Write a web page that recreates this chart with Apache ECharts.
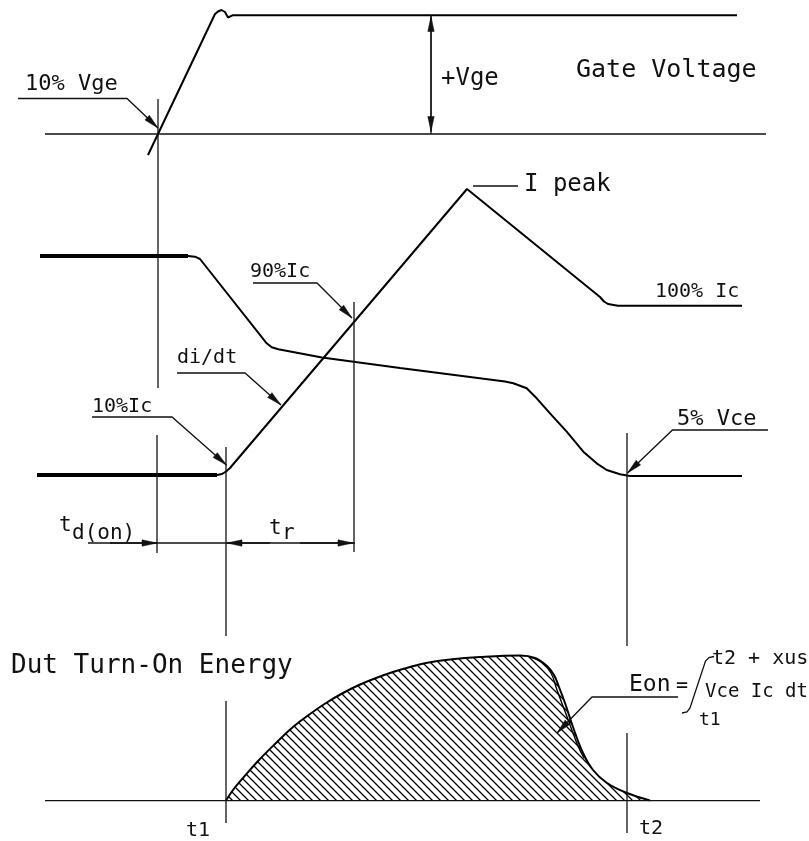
<!DOCTYPE html>
<html>
<head>
<meta charset="utf-8">
<title>IGBT turn-on waveforms</title>
<script src="https://cdn.jsdelivr.net/npm/echarts@6/dist/echarts.min.js"></script>
<style>
  html, body { margin: 0; padding: 0; background: #fff; }
  #chart { width: 809px; height: 841px; }
</style>
</head>
<body>
<div id="chart"></div>
<script>
// time runs left to right, level is read downward from the top of the sheet
const gateVoltage = [[148,155],[215,14],[218,11.5],[221.5,10],[225,12],[228,17.5],[230,17.5],[232.5,15.3],[737,15.3]]
const vce = [[40,256],[188,256],[195,256.7],[200,259],[266.7,343.3],[271.7,347.3],[278.3,349.3],[322,357.5],[400,368],[505,381.5],
  [513.3,383.3],[526.7,388.3],[536.7,398.3],[550,413.3],[566.7,431.7],[583.3,451.7],[596.7,463.3],[606.7,470],[620,474.3],[630,476],[742,476]]
const ic = [[37,475],[217,475],[222,474],[226,471.5],[230,468],[467,189],[600,297],[604,301.5],[608,304],[618,305.7],[742,305.7]]
const energy = [[226,800.5],[233,790],[243,778],[259,760],[276,743],[293,727],[310,714],[326,703],[343,693],[359,685],[376,678],
  [393,672],[410,667],[426,663],[450,659.5],[480,657],[520,655.5],[535,658],[547,666],[554,675],[559,687],[565,703],[573,727],
  [583,753],[593,770],[607,783],[627,793],[650,800.5]]
const energyInner = [[530,657],[541,662],[551,673],[557,690],[566,714],[578,746],[584,758]]
const energyFloor = 800.7

// construction lines: baselines and time markers
const guides = [
  [[45,134],[766,134]],
  [[45,energyFloor],[760,energyFloor]],
  [[158,99],[158,388]],
  [[157,435],[157,553]],
  [[226,447],[226,636]],
  [[226,701],[226,823]],
  [[354,302],[354,552]],
  [[627,433],[627,646]],
  [[627,733],[627,833]],
  [[431,15],[431,134]],
  [[88,543],[355,543]],
  [[473,186],[518,186]],
  [[714,656.5],[709,657.5],[705.5,661],[690,708],[687,712],[682,713]]
]
// leaders and dimension arrows, arrowhead at the last point
const arrows = [
  [[18,98.5],[127,98.5],[158,128]],
  [[253,283],[317,283],[352,318]],
  [[177,373],[245,373],[281,405]],
  [[92,417],[172,417],[226.5,465]],
  [[768,430],[672.5,430],[627.5,473]],
  [[678,697],[592,697],[557,733]],
  [[431,70],[431,16.5]],
  [[431,70],[431,131.5]],
  [[110,543],[157,543]],
  [[270,543],[227,543]],
  [[300,543],[353,543]]
]
const notes = [
  ['10% Vge', 25, 84, 22],
  ['+Vge', 441, 79, 24],
  ['Gate Voltage', 576, 70, 25],
  ['I peak', 524, 185, 24],
  ['90%Ic', 250, 272, 20],
  ['100% Ic', 655, 292, 20],
  ['di/dt', 177, 358, 20],
  ['10%Ic', 92, 407, 20],
  ['5% Vce', 677, 419, 22],
  ['t', 59, 526, 21],
  ['d(on)', 72, 534, 21],
  ['t', 269, 529, 21],
  ['r', 282, 534, 21],
  ['Dut Turn-On Energy', 11, 666, 26],
  ['Eon', 629, 685, 23],
  ['=', 676, 686, 20],
  ['t2 + xus', 712, 659, 20],
  ['Vce Ic dt', 705, 692, 19],
  ['t1', 699, 720, 18],
  ['t1', 186, 831, 20],
  ['t2', 639, 829, 20]
]

const ink = '#111'
const font = '"DejaVu Sans Mono", monospace'

function hatch (step) {
  const c = document.createElement('canvas')
  c.width = c.height = step
  const g = c.getContext('2d')
  g.strokeStyle = '#000'
  g.lineWidth = 1.3
  g.beginPath()
  g.moveTo(-1, -1); g.lineTo(step + 1, step + 1)
  g.moveTo(-1, step - 1); g.lineTo(1, step + 1)
  g.moveTo(step - 1, -1); g.lineTo(step + 1, 1)
  g.stroke()
  return c
}

function polylines (list, withHead) {
  return (params, api) => {
    const px = list[params.dataIndex].map(p => api.coord(p))
    const children = [{
      type: 'polyline',
      shape: { points: px },
      style: { stroke: ink, lineWidth: 1.3, fill: null }
    }]
    if (withHead) {
      const a = px[px.length - 2]
      const b = px[px.length - 1]
      const dx = b[0] - a[0]
      const dy = b[1] - a[1]
      const len = Math.hypot(dx, dy)
      const ux = dx / len
      const uy = dy / len
      const bx = b[0] - ux * 15
      const by = b[1] - uy * 15
      children.push({
        type: 'polygon',
        shape: { points: [b, [bx - uy * 3.2, by + ux * 3.2], [bx + uy * 3.2, by - ux * 3.2]] },
        style: { fill: ink, stroke: ink, lineWidth: 0.5 }
      })
    }
    return { type: 'group', children }
  }
}

function wave (data, width, extra) {
  return Object.assign({
    type: 'line',
    data,
    symbol: 'none',
    silent: true,
    lineStyle: { color: '#000', width },
    z: 3
  }, extra)
}

const chart = echarts.init(document.getElementById('chart'), null, { renderer: 'canvas' })
chart.setOption({
  animation: false,
  backgroundColor: '#fff',
  grid: [
    { left: 0, right: 0, top: 0, bottom: 0 },
    { left: 0, right: 0, top: 0, bottom: 841 - energyFloor }
  ],
  xAxis: [
    { type: 'value', gridIndex: 0, min: 0, max: 809, show: false },
    { type: 'value', gridIndex: 1, min: 0, max: 809, show: false }
  ],
  yAxis: [
    { type: 'value', gridIndex: 0, min: 0, max: 841, inverse: true, show: false },
    { type: 'value', gridIndex: 1, min: 0, max: energyFloor, inverse: true, show: false }
  ],
  series: [
    {
      type: 'line',
      xAxisIndex: 1,
      yAxisIndex: 1,
      data: energy,
      smooth: 0.4,
      symbol: 'none',
      silent: true,
      lineStyle: { color: '#000', width: 2 },
      areaStyle: { color: { image: hatch(8), repeat: 'repeat' }, opacity: 1, origin: 'end' },
      z: 2
    },
    wave(energyInner, 1.4, { xAxisIndex: 1, yAxisIndex: 1, smooth: 0.4 }),
    wave(gateVoltage, 2),
    wave(vce, 2),
    wave(ic, 2),
    wave(vce.slice(0, 2), 4),
    wave(ic.slice(0, 2), 4),
    {
      type: 'custom',
      silent: true,
      data: guides.map((g, i) => [i, 0]),
      renderItem: polylines(guides, false),
      z: 4
    },
    {
      type: 'custom',
      silent: true,
      data: arrows.map((g, i) => [i, 0]),
      renderItem: polylines(arrows, true),
      z: 4
    },
    {
      type: 'custom',
      silent: true,
      data: notes.map((n, i) => [n[1], n[2]]),
      renderItem: (params, api) => {
        const n = notes[params.dataIndex]
        const p = api.coord([n[1], n[2]])
        return {
          type: 'text',
          x: p[0],
          y: p[1],
          style: {
            text: n[0],
            fill: ink,
            font: n[3] + 'px ' + font,
            align: 'left',
            verticalAlign: 'middle',
            textAlign: 'left',
            textVerticalAlign: 'middle'
          }
        }
      },
      z: 5
    }
  ]
})
</script>
</body>
</html>
